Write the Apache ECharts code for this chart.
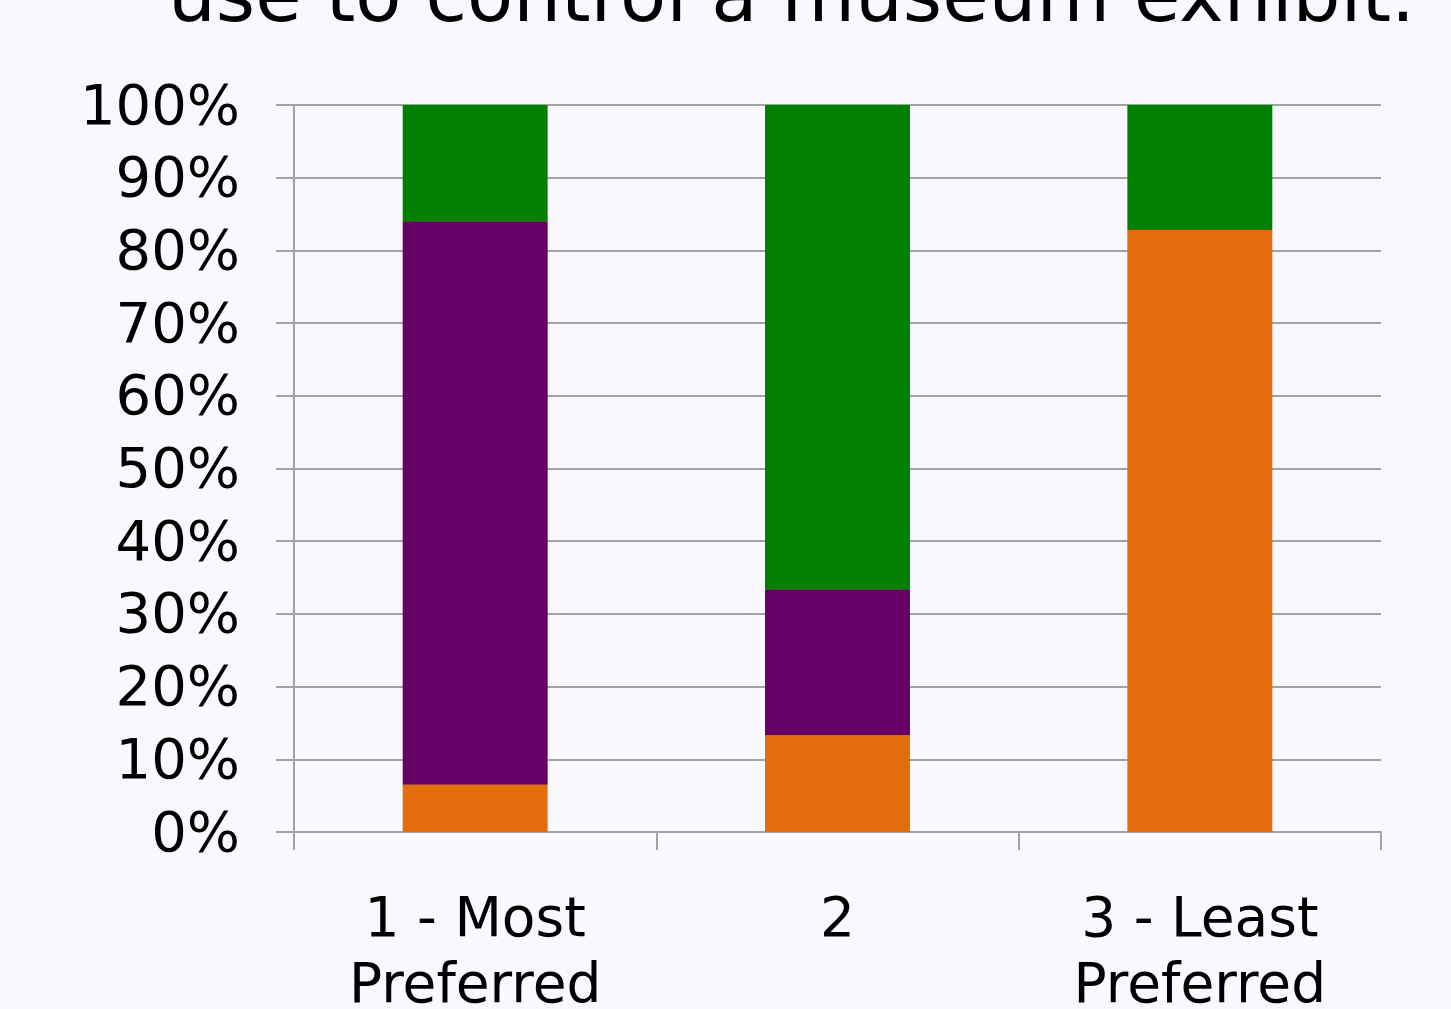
<!DOCTYPE html>
<html>
<head>
<meta charset="utf-8">
<script src="https://cdn.jsdelivr.net/npm/echarts@6/dist/echarts.min.js"></script>
<style>
  html, body { margin: 0; padding: 0; background: #f8f8fe; overflow: hidden; }
  #chart { width: 1451px; height: 1009px; }
</style>
</head>
<body>
<div id="chart"></div>
<script>
// Preference rank categories
const categories = ['1 - Most\nPreferred', '2', '3 - Least\nPreferred'];
// Share of responses (%) per device at each rank, stacked bottom to top
const deviceA = [6.5, 13.3, 82.8];   // orange
const deviceB = [77.4, 20.0, 0];     // purple
const deviceC = [16.1, 66.7, 17.2];  // green
const yTicks = [0, 10, 20, 30, 40, 50, 60, 70, 80, 90, 100];

const font = 'DejaVu Sans, Verdana, sans-serif';
const gray = '#a3a3a3';

const chart = echarts.init(document.getElementById('chart'));
chart.setOption({
  backgroundColor: '#f8f8fe',
  animation: false,
  title: {
    text: 'use to control a museum exhibit.',
    left: 163,
    top: -42,
    textStyle: { fontFamily: font, fontSize: 75.5, fontWeight: 'normal', color: '#000' }
  },
  grid: { left: 294, right: 70, top: 105, bottom: 177, outerBoundsMode: 'none', containLabel: false },
  xAxis: {
    type: 'category',
    data: categories,
    axisLine: { lineStyle: { color: gray, width: 2 } },
    axisTick: { show: true, length: 18, lineStyle: { color: gray, width: 2 } },
    axisLabel: { fontFamily: font, fontSize: 55, color: '#000', margin: 57, lineHeight: 66 }
  },
  yAxis: {
    type: 'value',
    min: yTicks[0],
    max: yTicks[yTicks.length - 1],
    interval: 10,
    axisLine: { show: true, lineStyle: { color: gray, width: 2 } },
    axisTick: { show: true, length: 18, lineStyle: { color: gray, width: 2 } },
    splitLine: { lineStyle: { color: gray, width: 2 } },
    axisLabel: {
      margin: 54,
      formatter: '{p|{value}%}',
      rich: { p: { fontFamily: font, fontSize: 56, color: '#000', padding: [8, 0, 0, 0] } }
    }
  },
  series: [
    { name: 'Device A', type: 'bar', stack: 'rank', data: deviceA, barWidth: '40%',
      itemStyle: { color: '#e36c0c' } },
    { name: 'Device B', type: 'bar', stack: 'rank', data: deviceB, barWidth: '40%',
      itemStyle: { color: '#660066' } },
    { name: 'Device C', type: 'bar', stack: 'rank', data: deviceC, barWidth: '40%',
      itemStyle: { color: '#007f00' } }
  ]
});
</script>
</body>
</html>
